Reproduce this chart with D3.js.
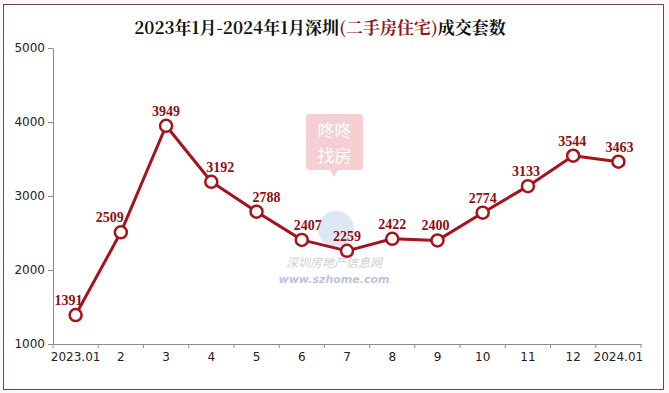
<!DOCTYPE html>
<html><head><meta charset="utf-8">
<script src="https://cdn.jsdelivr.net/npm/d3@7"></script>
<style>body{margin:0;background:#fdf9f9;}svg{display:block;}</style>
</head><body><svg id="c" width="669" height="393"></svg>
<script>
const categories = ["2023.01","2","3","4","5","6","7","8","9","10","11","12","2024.01"];
const values = [1391,2509,3949,3192,2788,2407,2259,2422,2400,2774,3133,3544,3463];
const yTicks = [1000,2000,3000,4000,5000];
// label nudges (style only)
const labelDx = [-7,-11,0,9,10,6,0,0,-2,0,-2,-1,1];

const svg = d3.select("#c");
svg.append("rect").attr("x",3.5).attr("y",4.5).attr("width",660).attr("height",385)
  .attr("fill","#fff").attr("stroke","#6b4848").attr("stroke-width",1);

const x = d3.scaleBand().domain(categories).range([53,641]);
const y = d3.scaleLinear().domain([1000,5000]).range([344,48]);

// watermarks
const wm = svg.append("g");
wm.append("rect").attr("x",306).attr("y",114).attr("width",57).attr("height",56).attr("rx",4).attr("fill","#f5cfd2");
wm.append("path").attr("d","M330,170 L334,177 L338,170 Z").attr("fill","#f5cfd2");
wm.append("text").attr("x",334.5).attr("y",137).attr("text-anchor","middle").attr("fill","#fff")
  .style("font","17px 'Noto Sans CJK SC'").text("咚咚");
wm.append("text").attr("x",334.5).attr("y",162).attr("text-anchor","middle").attr("fill","#fff")
  .style("font","17px 'Noto Sans CJK SC'").text("找房");
wm.append("circle").attr("cx",336).attr("cy",229).attr("r",18).attr("fill","#dde8f3");
wm.append("text").attr("x",334).attr("y",267).attr("text-anchor","middle").attr("fill","#cfcfd3")
  .style("font","italic 12px 'Noto Sans CJK SC'").text("深圳房地产信息网");
wm.append("text").attr("x",334).attr("y",283).attr("text-anchor","middle").attr("fill","#bfc3d8")
  .style("font","italic bold 11px 'DejaVu Sans'").text("www.szhome.com");

// axes
const yAxis = svg.append("g").attr("transform","translate(53,0)")
  .call(d3.axisLeft(y).tickValues(yTicks).tickFormat(d3.format("d")).tickSize(5).tickSizeOuter(0));
const xAxis = svg.append("g").attr("transform","translate(0,344)")
  .call(d3.axisBottom(x).tickSize(0).tickSizeOuter(0));
xAxis.append("g").selectAll("line").data(categories.concat(["end"])).join("line")
  .attr("x1",(d,i)=> i<categories.length? x(d): x.range()[1])
  .attr("x2",(d,i)=> i<categories.length? x(d): x.range()[1])
  .attr("y1",0).attr("y2",4).attr("stroke","#8c8c8c");
[yAxis,xAxis].forEach(a=>{
  a.selectAll("path.domain").attr("stroke","#8c8c8c");
  a.selectAll(".tick line").attr("stroke","#8c8c8c");
  a.selectAll("text").attr("fill","#222").style("font","12px 'DejaVu Sans', sans-serif");
});
yAxis.selectAll("text").attr("x",-8);
xAxis.selectAll(".tick text").attr("dy","0.71em").attr("y",8);

// line
const cx = d => x(d)+x.bandwidth()/2;
svg.append("path").datum(values)
  .attr("d", d3.line().x((d,i)=>cx(categories[i])).y(d=>y(d)))
  .attr("fill","none").attr("stroke","#a3141c").attr("stroke-width",3).attr("stroke-linejoin","round");
svg.append("g").selectAll("circle").data(values).join("circle")
  .attr("cx",(d,i)=>cx(categories[i])).attr("cy",d=>y(d)).attr("r",6)
  .attr("fill","#fff").attr("stroke","#a3141c").attr("stroke-width",2.5);
svg.append("g").selectAll("text").data(values).join("text")
  .attr("x",(d,i)=>cx(categories[i]) + labelDx[i]).attr("y",d=>y(d)-10)
  .attr("text-anchor","middle").attr("fill","#8b0f14")
  .style("font","bold 14px 'Liberation Serif', serif").text(d=>d);

// title
const t = svg.append("text").attr("x",320).attr("y",34).attr("text-anchor","middle")
  .style("font","bold 17px 'Noto Serif CJK SC','Noto Sans CJK SC', serif");
t.append("tspan").attr("fill","#111").text("2023年1月-2024年1月深圳");
t.append("tspan").attr("fill","#8b1a1a").text("(二手房住宅)");
t.append("tspan").attr("fill","#111").text("成交套数");
</script></body></html>
